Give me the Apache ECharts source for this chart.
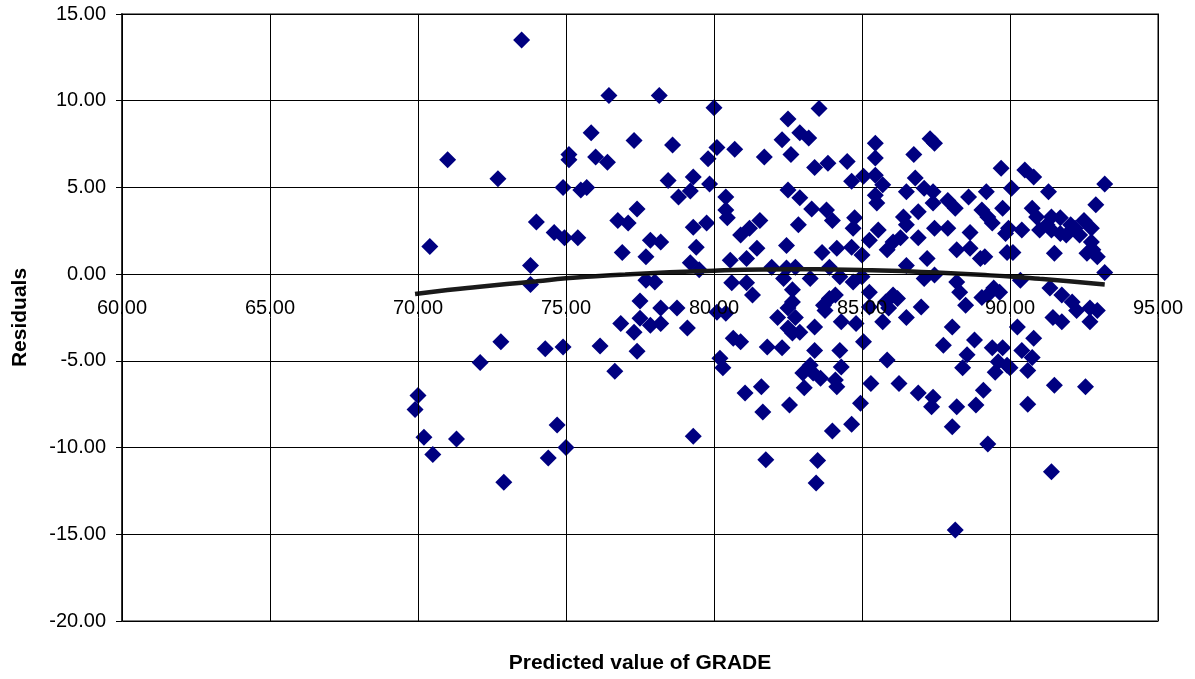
<!DOCTYPE html>
<html>
<head>
<meta charset="utf-8">
<script src="https://cdn.jsdelivr.net/npm/echarts@6/dist/echarts.min.js"></script>
<style>
  html, body { margin: 0; padding: 0; background: #fff; }
  #chart { width: 1195px; height: 679px; }
</style>
</head>
<body>
<div id="chart"></div>
<script>
// ---- Data ----
var xTicks = [60, 65, 70, 75, 80, 85, 90, 95];
var yTicks = [-20, -15, -10, -5, 0, 5, 10, 15];

var pointsLeft = [
  [73.5,13.5],[71.0,6.6],[72.7,5.5],[74.9,5.0],[74.0,3.0],[74.6,2.4],[70.4,1.6],[73.8,0.5],
  [73.8,-0.6],[72.8,-3.9],[74.3,-4.3],[72.1,-5.1],[70.0,-7.0],[69.9,-7.8],[70.2,-9.4],[71.3,-9.5],
  [70.5,-10.4],[74.7,-8.7],[74.4,-10.6],[72.9,-12.0],[75.0,-10.0],[74.9,-4.2],[75.1,6.9],[75.1,6.6]
];
var pointsUpperMid = [
  [76.45,10.3],[78.15,10.3],[80.0,9.6],[75.85,8.15],[77.3,7.7],[78.6,7.45],[76.0,6.75],[76.4,6.45],
  [80.1,7.3],[80.7,7.2],[79.8,6.65],[81.7,6.75],[78.45,5.4],[79.3,5.6],[79.2,4.8],[79.85,5.2],
  [78.8,4.45],[80.4,4.45],[75.5,4.85],[75.7,5.0]
];
var pointsUpperRight = [
  [83.55,9.55],[82.5,8.95],[82.9,8.15],[83.2,7.85],[82.3,7.75],[82.6,6.9],[83.4,6.15],[83.85,6.4],
  [84.5,6.5],[85.45,7.55],[85.45,6.7],[86.75,6.9],[87.3,7.8],[87.45,7.55],[84.65,5.35],[85.05,5.65],
  [85.45,5.7],[85.7,5.15],[86.8,5.55],[86.5,4.75],[87.1,4.95],[87.4,4.75],[82.5,4.85],[82.9,4.4],
  [87.9,4.25],
  [89.7,6.1],[90.5,6.0],[90.8,5.6],[90.05,4.95],[89.2,4.75],[88.6,4.45],[91.3,4.75],[93.2,5.2],[92.9,4.0]
];
var pointsCentreLeft = [
  [77.4,3.75],[76.75,3.1],[77.1,2.95],[74.95,2.1],[75.4,2.1],[77.85,1.95],[78.2,1.85],[76.9,1.25],
  [77.7,1.0],[79.4,1.55],[79.2,0.65],[79.5,0.25],[79.3,2.7],[79.75,2.95],[80.4,3.7],[80.45,3.25],
  [80.9,2.25],[81.2,2.65],[81.45,1.5],[81.1,0.9],[80.55,0.8],[81.55,3.1],[77.7,-0.35],[78.0,-0.45],
  [80.6,-0.5],[81.1,-0.5],[81.3,-1.2],[77.5,-1.55],[78.2,-1.95],[78.75,-1.95],[76.85,-2.85],[77.5,-2.55],
  [77.85,-2.95],[78.2,-2.85],[77.3,-3.35],[79.1,-3.1],[80.1,-2.2],[80.4,-2.25],[76.15,-4.15],[77.4,-4.45],
  [80.65,-3.7],[80.9,-3.9],[80.2,-4.85],[80.3,-5.4],[76.65,-5.6]
];
var pointsCentre = [
  [83.3,3.75],[83.8,3.7],[84.0,3.1],[82.85,2.85],[84.75,3.25],[84.7,2.65],[85.5,4.1],[85.45,4.55],
  [86.9,3.6],[86.4,3.3],[86.5,2.85],[87.4,4.1],[88.15,3.8],[85.55,2.55],[85.25,1.95],[86.3,2.1],
  [86.05,1.85],[85.85,1.4],[86.9,2.1],[87.45,2.65],[87.9,2.65],[82.45,1.65],[83.65,1.25],[84.15,1.5],
  [84.65,1.55],[85.0,1.1],[87.2,0.9],[88.2,1.4],[81.95,0.4],[82.45,0.35],[82.75,0.4],[83.9,0.4],
  [84.25,-0.15],[84.7,-0.45],[83.25,-0.25],[82.35,-0.25],[85.0,-0.15],[86.5,0.5],[87.1,-0.25],[87.45,-0.05],
  [88.2,-0.45],[88.3,-1.05],[82.65,-0.9],[85.25,-1.05],[83.9,-1.4],[84.1,-1.2],[86.05,-1.2],[86.2,-1.4],
  [82.65,-1.6],[82.5,-1.95],[83.7,-1.8],[83.75,-2.1],[87.0,-1.9],[85.8,-1.6],[85.9,-1.95],[85.25,-1.9],
  [82.15,-2.5],[82.75,-2.5],[84.3,-2.75],[84.8,-2.85],[86.5,-2.5],[82.5,-3.1],[82.9,-3.35],[82.65,-3.4],
  [83.4,-3.05],[85.7,-2.75],[88.05,-3.05],[81.8,-4.2],[82.3,-4.25],[83.4,-4.4],[84.25,-4.4],[85.05,-3.9],
  [87.75,-4.1],[85.85,-4.95],[84.3,-5.35],[83.25,-5.25],[83.35,-5.7],[83.0,-5.7]
];
var pointsCentreRight = [
  [89.05,3.7],[89.25,3.3],[89.4,2.95],[89.75,3.8],[90.75,3.8],[90.9,3.3],[89.95,2.65],[89.85,2.35],
  [90.4,2.55],[91.0,2.55],[91.25,2.85],[91.4,3.3],[91.7,3.25],[91.4,2.55],[91.7,2.35],[92.05,2.85],
  [92.2,2.65],[92.35,2.25],[92.5,3.1],[92.75,2.65],[91.9,2.25],[92.75,1.85],[92.8,1.4],[92.95,1.0],
  [92.6,1.2],[91.5,1.2],[93.2,0.1],[88.65,2.4],[88.65,1.5],[89.15,1.0],[89.0,0.9],[89.9,1.25],
  [90.1,1.25],[90.35,-0.35],[91.35,-0.8],[91.75,-1.2],[89.45,-0.8],[89.65,-1.05],[89.25,-1.2],[89.05,-1.35],
  [88.5,-1.8],[92.1,-1.6],[92.25,-2.1],[92.7,-1.95],[92.95,-2.1],[92.7,-2.75],[91.45,-2.5],[91.75,-2.75],
  [90.25,-3.05],[88.8,-3.8],[89.4,-4.25],[89.75,-4.25],[90.8,-3.7],[90.4,-4.4],[90.75,-4.8],[88.55,-4.65],
  [88.4,-5.4],[89.6,-5.05],[89.9,-5.25],[90.0,-5.4],[90.6,-5.55]
];
var pointsLower = [
  [81.05,-6.85],[81.6,-6.5],[81.65,-7.95],[81.75,-10.7],[79.3,-9.35],[83.6,-6.0],[84.1,-6.1],[84.15,-6.5],
  [83.05,-6.55],[82.55,-7.55],[84.95,-7.45],[84.65,-8.65],[84.0,-9.05],[85.3,-6.3],[86.25,-6.3],[86.9,-6.85],
  [87.4,-7.1],[87.35,-7.65],[88.2,-7.65],[88.05,-8.8],[83.5,-10.75],[83.45,-12.05],[88.15,-14.75],[89.5,-5.65],
  [91.5,-6.4],[92.55,-6.5],[89.1,-6.7],[88.85,-7.55],[90.6,-7.5],[89.25,-9.8],[91.4,-11.4]
];

// polynomial trend line
var trendX = [69.9,71,72,73,74,75,76,77,78,79,80,81,82,83,84,85,86,87,88,89,90,91,92,93.2];
var trendY = [-1.15,-0.92,-0.74,-0.57,-0.41,-0.24,-0.12,-0.02,0.07,0.14,0.2,0.25,0.27,0.28,0.27,0.24,0.2,0.13,0.05,-0.04,-0.14,-0.27,-0.41,-0.6];

var xTitle = 'Predicted value of GRADE';
var yTitle = 'Residuals';

var residualPoints = [].concat(pointsLeft, pointsUpperMid, pointsUpperRight,
  pointsCentreLeft, pointsCentre, pointsCentreRight, pointsLower);
var trendData = trendX.map(function (x, i) { return [x, trendY[i]]; });

// layout
var W = 1195, H = 679;
var G = { left: 122, right: 37, top: 14, bottom: 58 };
var yMin = yTicks[0], yMax = yTicks[yTicks.length - 1];
var plotH = H - G.top - G.bottom;
// x axis crosses the value axis at 0: shift it up from the grid bottom
var xAxisOffset = -plotH * (0 - yMin) / (yMax - yMin);

var FONT = 'Liberation Sans, Arial, sans-serif';
var chart = echarts.init(document.getElementById('chart'), null, { renderer: 'canvas' });
chart.setOption({
  animation: false,
  backgroundColor: '#ffffff',
  title: {
    text: xTitle,
    left: 640,
    top: 653,
    textAlign: 'center',
    padding: 0,
    textStyle: { color: '#000', fontSize: 21, fontWeight: 'bold', fontFamily: FONT }
  },
  grid: {
    left: G.left, right: G.right, top: G.top, bottom: G.bottom,
    show: true, borderColor: '#808080', borderWidth: 2, backgroundColor: '#ffffff'
  },
  xAxis: {
    type: 'value',
    min: xTicks[0], max: xTicks[xTicks.length - 1], interval: 5,
    position: 'bottom',
    offset: xAxisOffset,
    z: 10,
    axisLine: { show: true, onZero: false, lineStyle: { color: '#000', width: 1 } },
    axisTick: { show: true, inside: false, length: 6, lineStyle: { color: '#000' } },
    axisLabel: {
      color: '#000', fontSize: 20, fontFamily: FONT, margin: 24,
      formatter: function (v) { return v.toFixed(2); }
    },
    splitLine: { show: true, lineStyle: { color: '#000', width: 1 } }
  },
  yAxis: {
    type: 'value',
    min: yMin, max: yMax, interval: 5,
    axisLine: { show: true, onZero: false, lineStyle: { color: '#333', width: 2 } },
    axisTick: { show: true, inside: false, length: 6, lineStyle: { color: '#000' } },
    axisLabel: {
      color: '#000', fontSize: 20, fontFamily: FONT, margin: 16,
      formatter: function (v) { return v.toFixed(2); }
    },
    splitLine: { show: true, lineStyle: { color: '#000', width: 1 } },
    name: yTitle,
    nameLocation: 'middle',
    nameGap: 91,
    nameRotate: 90,
    nameTextStyle: { color: '#000', fontSize: 21, fontWeight: 'bold', fontFamily: FONT }
  },
  series: [{
    type: 'scatter',
    data: residualPoints,
    symbol: 'diamond',
    symbolSize: 17,
    itemStyle: { color: '#000080', opacity: 1 },
    z: 3
  }, {
    type: 'line',
    data: trendData,
    smooth: true,
    showSymbol: false,
    symbol: 'none',
    lineStyle: { color: '#1a1a1a', width: 4.5 },
    z: 5
  }]
});
</script>
</body>
</html>
